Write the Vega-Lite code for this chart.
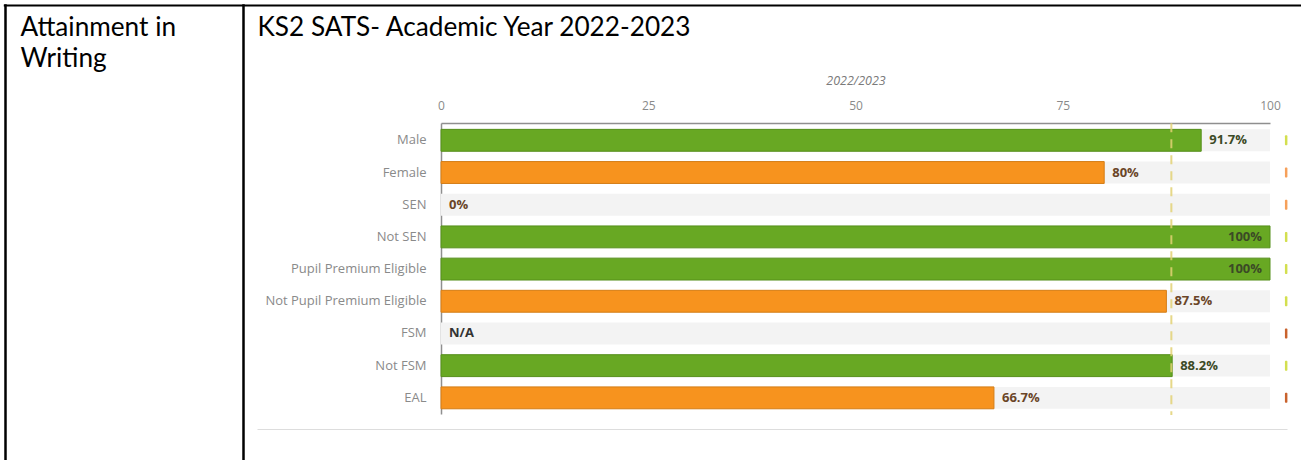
{
  "$schema": "https://vega.github.io/schema/vega-lite/v6.json",
  "width": 1301,
  "height": 460,
  "padding": 0,
  "autosize": "none",
  "background": "white",
  "config": {
    "font": "Open Sans",
    "view": {"stroke": null},
    "axis": {"ticks": false, "tickSize": 0, "grid": false}
  },
  "datasets": {
    "groups": [
      {"group": "Male", "value": 91.7, "label": "91.7%", "status": "above", "flag": "green"},
      {"group": "Female", "value": 80, "label": "80%", "status": "below", "flag": "amber"},
      {"group": "SEN", "value": 0, "label": "0%", "status": "below", "flag": "amber"},
      {"group": "Not SEN", "value": 100, "label": "100%", "status": "above", "flag": "green"},
      {"group": "Pupil Premium Eligible", "value": 100, "label": "100%", "status": "above", "flag": "green"},
      {"group": "Not Pupil Premium Eligible", "value": 87.5, "label": "87.5%", "status": "below", "flag": "green"},
      {"group": "FSM", "value": null, "label": "N/A", "status": "na", "flag": "red"},
      {"group": "Not FSM", "value": 88.2, "label": "88.2%", "status": "above", "flag": "green"},
      {"group": "EAL", "value": 66.7, "label": "66.7%", "status": "below", "flag": "red"}
    ],
    "benchmark": [
      {"target": 88.1}
    ]
  },
  "data": {"name": "groups"},
  "layer": [
    {
      "encoding": {
        "y": {
          "field": "group",
          "type": "nominal",
          "sort": null,
          "scale": {"range": [123, 414], "paddingInner": 0.32, "paddingOuter": 0.18, "align": 0.55},
          "axis": {
            "orient": "left",
            "offset": -441,
            "title": null,
            "domain": true,
            "domainColor": "#8f8f8f",
            "domainWidth": 1.5,
            "ticks": false,
            "labelPadding": 15,
            "labelColor": "#8a8a8a",
            "labelFontSize": 13,
            "labelFont": "Open Sans"
          }
        }
      },
      "layer": [
        {
          "mark": {"type": "bar", "fill": "#f3f3f3"},
          "encoding": {
            "x": {
              "datum": 0,
              "type": "quantitative",
              "scale": {"domain": [0, 100], "range": [441, 1270], "nice": false, "zero": true},
              "axis": {
                "orient": "top",
                "offset": -123,
                "values": [0, 25, 50, 75, 100],
                "domain": true,
                "domainColor": "#8f8f8f",
                "domainWidth": 1.5,
                "ticks": false,
                "labelFlush": false,
                "labelPadding": 11,
                "labelColor": "#8a8a8a",
                "labelFontSize": 12,
                "labelFont": "Open Sans",
                "title": "2022/2023",
                "titleX": 855.5,
                "titleY": -39,
                "titleAlign": "center",
                "titleBaseline": "alphabetic",
                "titleFont": "Open Sans",
                "titleFontSize": 12.5,
                "titleFontStyle": "italic",
                "titleFontWeight": "normal",
                "titleColor": "#7a7a7a"
              }
            },
            "x2": {"datum": 100}
          }
        },
        {
          "mark": {"type": "bar", "strokeWidth": 1},
          "encoding": {
            "x": {"field": "value", "type": "quantitative"},
            "fill": {
              "field": "status",
              "type": "nominal",
              "legend": null,
              "scale": {
                "domain": ["above", "below", "na", "green", "amber", "red"],
                "range": ["#68a823", "#f7931e", "#cccccc", "#d3df4f", "#f6a05a", "#c9622d"]
              }
            },
            "stroke": {
              "field": "status",
              "type": "nominal",
              "legend": null,
              "scale": {"domain": ["above", "below", "na"], "range": ["#558f1a", "#d47d16", "#999999"]},
              "condition": {"test": "datum.value == 0", "value": "transparent"}
            }
          }
        },
        {
          "data": {"name": "benchmark"},
          "mark": {"type": "rule", "color": "#e2d174", "opacity": 0.85, "strokeWidth": 2, "strokeDash": [9, 7]},
          "encoding": {
            "x": {"field": "target", "type": "quantitative"},
            "y": {"datum": "Male", "type": "nominal", "bandPosition": -0.28},
            "y2": {"datum": "EAL", "bandPosition": 1.28}
          }
        },
        {
          "mark": {"type": "bar", "height": 10, "cornerRadius": 1},
          "encoding": {
            "x": {"datum": 101.8, "type": "quantitative"},
            "x2": {"datum": 102.1},
            "fill": {"field": "flag", "type": "nominal", "legend": null}
          }
        },
        {
          "transform": [{"filter": "datum.value != null && datum.value < 100"}],
          "mark": {"type": "text", "align": "left", "dx": 8, "fontWeight": "bold", "fontSize": 13, "font": "Open Sans"},
          "encoding": {
            "x": {"field": "value", "type": "quantitative"},
            "text": {"field": "label"},
            "color": {
              "field": "status",
              "type": "nominal",
              "legend": null,
              "scale": {"domain": ["above", "below", "na"], "range": ["#3b4a26", "#6a4527", "#333333"]}
            }
          }
        },
        {
          "transform": [{"filter": "datum.value >= 100"}],
          "mark": {"type": "text", "align": "right", "dx": -8, "fontWeight": "bold", "fontSize": 13, "font": "Open Sans"},
          "encoding": {
            "x": {"field": "value", "type": "quantitative"},
            "text": {"field": "label"},
            "color": {"field": "status", "type": "nominal", "legend": null}
          }
        },
        {
          "transform": [{"filter": "datum.value == null"}],
          "mark": {"type": "text", "align": "left", "dx": 8, "fontWeight": "bold", "fontSize": 13, "font": "Open Sans"},
          "encoding": {
            "x": {"datum": 0, "type": "quantitative"},
            "text": {"field": "label"},
            "color": {"field": "status", "type": "nominal", "legend": null}
          }
        }
      ]
    },
    {
      "mark": {"type": "point", "opacity": 0},
      "encoding": {
        "x": {
          "datum": 100,
          "type": "quantitative",
          "scale": {"domain": [3.3, 1301], "range": [3.3, 1301], "nice": false, "zero": false},
          "axis": {
            "orient": "top",
            "offset": 0,
            "values": [4.6, 242.7],
            "grid": true,
            "gridColor": "#000000",
            "gridWidth": 2.5,
            "gridOpacity": 1,
            "domain": false,
            "labels": false,
            "ticks": false,
            "title": "KS2 SATS- Academic Year 2022-2023",
            "titleX": 257,
            "titleY": 35,
            "titleAlign": "left",
            "titleBaseline": "alphabetic",
            "titleAngle": 0,
            "titleFont": "Lato",
            "titleFontSize": 26.2,
            "titleFontWeight": "normal",
            "titleColor": "#000000"
          }
        },
        "y": {
          "datum": 100,
          "type": "quantitative",
          "scale": {"domain": [3.8, 460], "range": [3.8, 460], "nice": false, "zero": false},
          "axis": {
            "orient": "left",
            "offset": 0,
            "values": [5],
            "grid": true,
            "gridColor": "#000000",
            "gridWidth": 2,
            "gridOpacity": 1,
            "domain": false,
            "labels": false,
            "ticks": false,
            "title": ["Attainment in", "Writing"],
            "titleX": 20,
            "titleY": 35,
            "titleAlign": "left",
            "titleBaseline": "alphabetic",
            "titleAngle": 0,
            "titleFont": "Lato",
            "titleFontSize": 26.2,
            "titleLineHeight": 31,
            "titleFontWeight": "normal",
            "titleColor": "#000000"
          }
        }
      }
    },
    {
      "mark": {"type": "point", "opacity": 0},
      "encoding": {
        "x": {
          "datum": 500,
          "type": "quantitative",
          "scale": {"domain": [257, 1287], "range": [257, 1287], "nice": false, "zero": false},
          "axis": {
            "orient": "bottom",
            "offset": -31,
            "domain": true,
            "domainColor": "#dddddd",
            "domainWidth": 1,
            "labels": false,
            "ticks": false,
            "grid": false,
            "title": null
          }
        }
      }
    }
  ],
  "resolve": {
    "scale": {"x": "independent", "y": "independent"},
    "axis": {"x": "independent", "y": "independent"}
  }
}
